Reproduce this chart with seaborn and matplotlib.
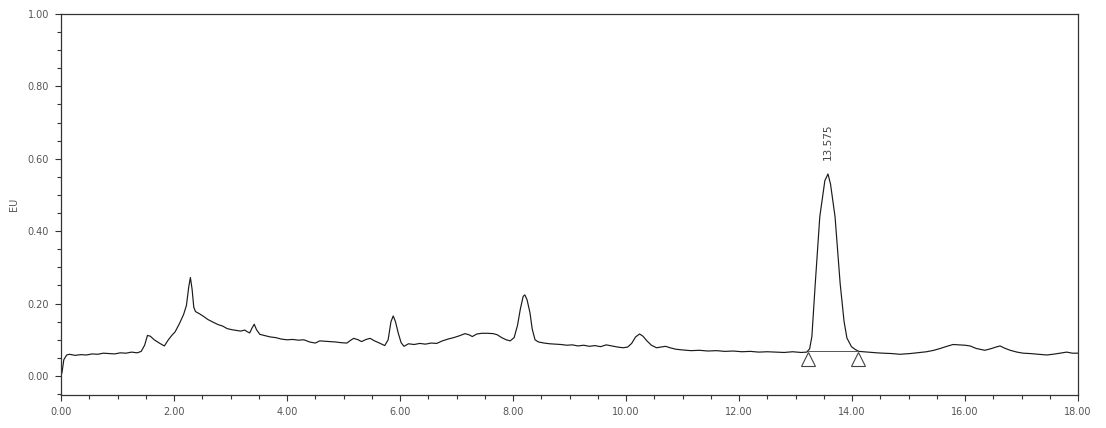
import matplotlib
matplotlib.use("Agg")
import matplotlib.pyplot as plt
from matplotlib.ticker import MultipleLocator, FormatStrFormatter
import seaborn as sns
import pandas as pd

# ---- data ----
time_min = [0.00, 0.02, 0.05, 0.10, 0.15, 0.25, 0.35, 0.45, 0.55, 0.65, 0.75, 0.85, 0.95,
            1.05, 1.15, 1.25, 1.35, 1.42, 1.48, 1.53, 1.58, 1.65, 1.75, 1.83, 1.90, 1.96,
            2.02, 2.10, 2.17, 2.22, 2.26, 2.29, 2.32, 2.35, 2.38, 2.45, 2.52, 2.60, 2.70,
            2.78, 2.86, 2.94, 3.02, 3.10, 3.18, 3.25, 3.30, 3.34, 3.38, 3.42, 3.46, 3.52,
            3.60, 3.70, 3.80, 3.90, 4.00, 4.10, 4.20, 4.30, 4.40, 4.50, 4.58, 4.66, 4.76,
            4.86, 4.96, 5.06, 5.12, 5.18, 5.26, 5.32, 5.40, 5.47, 5.55, 5.65, 5.73, 5.79,
            5.84, 5.88, 5.92, 5.97, 6.02, 6.07, 6.15, 6.25, 6.35, 6.45, 6.55, 6.65, 6.75,
            6.85, 6.95, 7.05, 7.15, 7.22, 7.28, 7.36, 7.45, 7.55, 7.65, 7.72, 7.80, 7.88,
            7.95, 8.02, 8.08, 8.13, 8.18, 8.21, 8.25, 8.30, 8.34, 8.39, 8.45, 8.55, 8.65,
            8.75, 8.85, 8.95, 9.05, 9.15, 9.25, 9.35, 9.45, 9.55, 9.65, 9.75, 9.85, 9.95,
            10.03, 10.10, 10.17, 10.24, 10.30, 10.37, 10.45, 10.54, 10.62, 10.70, 10.78,
            10.88, 11.00, 11.15, 11.30, 11.45, 11.60, 11.75, 11.90, 12.05, 12.20, 12.35,
            12.50, 12.65, 12.80, 12.95, 13.10, 13.20, 13.25, 13.29, 13.35, 13.43, 13.52,
            13.575, 13.62, 13.70, 13.79, 13.86, 13.91, 13.99, 14.06, 14.12, 14.20, 14.30,
            14.44, 14.55, 14.70, 14.85, 15.03, 15.15, 15.32, 15.45, 15.56, 15.70, 15.79,
            15.90, 16.00, 16.09, 16.20, 16.35, 16.45, 16.55, 16.62, 16.70, 16.80, 16.92,
            17.03, 17.15, 17.30, 17.45, 17.60, 17.72, 17.80, 17.90, 18.00]
signal_eu = [0.000, 0.012, 0.045, 0.058, 0.060, 0.057, 0.059, 0.058, 0.061, 0.060, 0.063, 0.062, 0.061,
             0.064, 0.063, 0.066, 0.064, 0.068, 0.085, 0.112, 0.110, 0.100, 0.090, 0.083, 0.100, 0.112,
             0.122, 0.146, 0.170, 0.195, 0.245, 0.272, 0.240, 0.190, 0.178, 0.172, 0.165, 0.156, 0.148,
             0.142, 0.138, 0.131, 0.128, 0.126, 0.124, 0.127, 0.122, 0.119, 0.132, 0.143, 0.128, 0.115,
             0.112, 0.108, 0.106, 0.102, 0.100, 0.101, 0.099, 0.100, 0.094, 0.091, 0.097, 0.096, 0.095,
             0.094, 0.092, 0.091, 0.098, 0.104, 0.100, 0.095, 0.101, 0.104, 0.097, 0.090, 0.084, 0.100,
             0.150, 0.166, 0.150, 0.118, 0.092, 0.082, 0.089, 0.087, 0.090, 0.088, 0.091, 0.090, 0.097,
             0.102, 0.106, 0.111, 0.117, 0.114, 0.109, 0.116, 0.118, 0.118, 0.117, 0.114, 0.106, 0.100,
             0.097, 0.106, 0.140, 0.185, 0.220, 0.224, 0.210, 0.175, 0.130, 0.100, 0.094, 0.091, 0.089,
             0.088, 0.087, 0.085, 0.086, 0.083, 0.085, 0.082, 0.084, 0.081, 0.086, 0.083, 0.080, 0.078,
             0.080, 0.090, 0.108, 0.116, 0.110, 0.097, 0.085, 0.078, 0.080, 0.082, 0.078,
             0.074, 0.072, 0.070, 0.071, 0.069, 0.070, 0.068, 0.069, 0.067, 0.068, 0.066,
             0.067, 0.066, 0.065, 0.067, 0.065, 0.066, 0.075, 0.109, 0.256, 0.440, 0.540,
             0.558, 0.530, 0.440, 0.256, 0.150, 0.105, 0.081, 0.073, 0.068, 0.067, 0.066,
             0.064, 0.063, 0.062, 0.060, 0.062, 0.064, 0.067, 0.071, 0.076, 0.083, 0.087,
             0.086, 0.085, 0.083, 0.076, 0.071, 0.075, 0.080, 0.083, 0.077, 0.071, 0.066,
             0.063, 0.062, 0.060, 0.058, 0.061, 0.064, 0.066, 0.063, 0.063]

peak_rt = 13.575
peak_height = 0.558
peak_label = "13.575"
peak_bounds_t = [13.22, 14.11]
peak_bounds_v = [0.068, 0.068]

x_tick_values = [0, 2, 4, 6, 8, 10, 12, 14, 16, 18]
y_tick_values = [0.0, 0.2, 0.4, 0.6, 0.8, 1.0]
y_label = "EU"

# ---- plot ----
sns.set_theme(style="white")
plt.rcParams["font.family"] = ["DejaVu Sans"]

fig = plt.figure(figsize=(11.06, 4.28), dpi=100)
ax = fig.add_axes([61 / 1106, 1 - 395 / 428, (1078 - 61) / 1106, (395 - 14) / 428])

df = pd.DataFrame({"t": time_min, "v": signal_eu})
sns.lineplot(data=df, x="t", y="v", ax=ax, color="#1a1a1a", linewidth=0.85,
             sort=False, estimator=None)

# integration baseline and markers
ax.plot(peak_bounds_t, peak_bounds_v, color="#555555", linewidth=0.7)
ax.plot(peak_bounds_t, [v - 0.021 for v in peak_bounds_v], linestyle="none",
        marker="^", markersize=9.5, markerfacecolor="white",
        markeredgecolor="#444444", markeredgewidth=0.8)

ax.annotate(peak_label, xy=(peak_rt, peak_height), xytext=(0, 10),
            textcoords="offset points", rotation=90, ha="center", va="bottom",
            fontsize=7.5, color="#444444")

ax.set_xlim(0, 18)
ax.set_ylim(-0.0525, 1.0)
ax.set_xticks(x_tick_values)
ax.set_yticks(y_tick_values)
ax.xaxis.set_major_formatter(FormatStrFormatter("%.2f"))
ax.yaxis.set_major_formatter(FormatStrFormatter("%.2f"))
ax.xaxis.set_minor_locator(MultipleLocator(0.5))
ax.yaxis.set_minor_locator(MultipleLocator(0.05))

ax.tick_params(axis="both", which="major", direction="out", length=4.5, width=0.8,
               color="#333333", labelsize=7, labelcolor="#555555", pad=4,
               bottom=True, left=True)
ax.tick_params(axis="both", which="minor", direction="out", length=3, width=0.8,
               color="#333333", bottom=True, left=True)

for s in ax.spines.values():
    s.set_color("#333333")
    s.set_linewidth(0.9)

ax.set_xlabel("")
ax.set_ylabel(y_label, fontsize=7, color="#555555", labelpad=6)

fig.savefig("out.png", dpi=100, facecolor="white")
